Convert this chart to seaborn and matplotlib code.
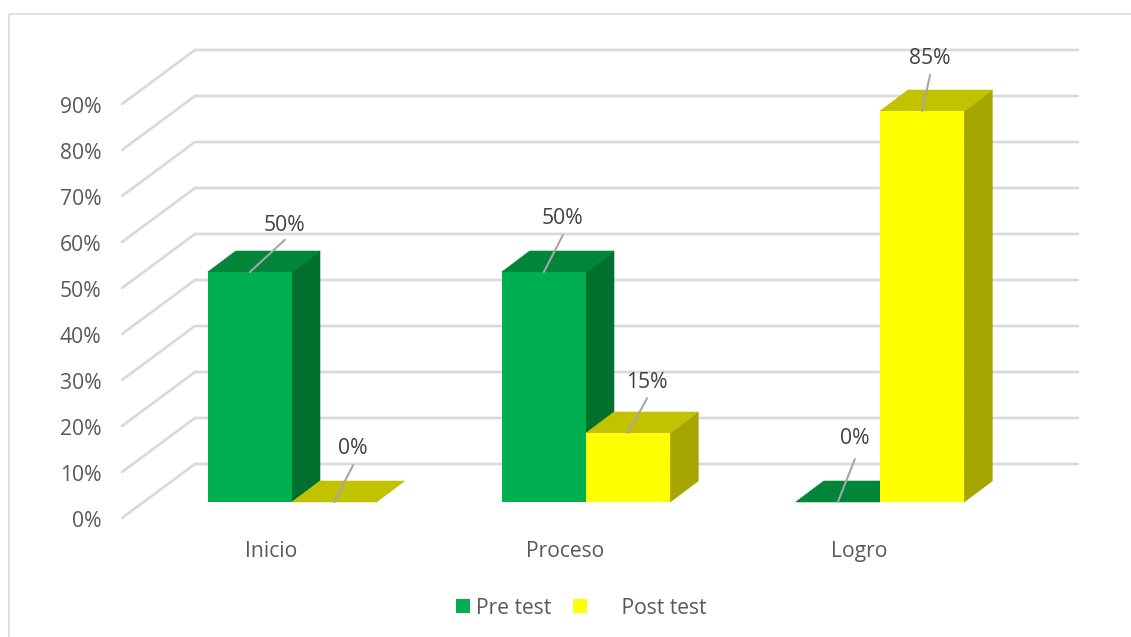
import matplotlib
matplotlib.use("Agg")
import matplotlib.pyplot as plt
from matplotlib.patches import Polygon, Rectangle
from matplotlib.transforms import Affine2D
import pandas as pd
import seaborn as sns

categories = ["Inicio", "Proceso", "Logro"]
series_names = ["Pre test", "Post test"]
pre_test = [50, 50, 0]
post_test = [0, 15, 85]
y_ticks = list(range(0, 100, 10))

front_colors = ["#00B050", "#FFFF00"]
top_colors = ["#008539", "#C2C200"]
side_colors = ["#00702F", "#A6A600"]
label_offsets = [(35, 48), (19, 55), (19, 55), (19, 52), (17, 64), (8, 54)]

W, H = 1131, 637
PX_X = 294.0
PX_Y = 4.6
FS = 15.2
plt.rcParams["font.family"] = ["Open Sans", "DejaVu Sans"]
sns.set_theme(style="white", rc={"font.family": ["Open Sans", "DejaVu Sans"]})

fig = plt.figure(figsize=(W / 100, H / 100), dpi=100)
left, right, top, bottom = 122, 1078, 49, 502
ax = fig.add_axes([left / W, 1 - bottom / H, (right - left) / W, (bottom - top) / H])

df = pd.DataFrame({
    "cat": categories * 2,
    "serie": [series_names[0]] * 3 + [series_names[1]] * 3,
    "val": pre_test + post_test,
})
sns.barplot(data=df, x="cat", y="val", hue="serie", order=categories,
            hue_order=series_names, palette=front_colors, width=168.5 / PX_X,
            gap=0, dodge=True, saturation=1, linewidth=0, legend=False, ax=ax)

ax.set_xlim((left - 292) / PX_X, (right - 292) / PX_X)
ax.set_ylim(0, (bottom - top) / PX_Y)
ax.set_xlabel("")
ax.set_ylabel("")
for s in ax.spines.values():
    s.set_visible(False)

# walls: side diagonals and back lines
wall_dx = 73 / PX_X
back_y = 38 / PX_Y
front_y = -16 / PX_Y
x_front = ax.get_xlim()[0]
x_end = ax.get_xlim()[1]
for v in y_ticks:
    ax.plot([x_front, x_front + wall_dx, x_end],
            [v + front_y, v + back_y, v + back_y],
            color="#D9D9D9", lw=1.9, clip_on=False, zorder=1,
            solid_joinstyle="miter")

# y ticks
ax.set_yticks(y_ticks)
ax.set_yticklabels([f"{v}%" for v in y_ticks])
ax.tick_params(axis="y", length=0, pad=15, labelsize=FS, labelcolor="#595959")
off_y = Affine2D().translate(0, -17)
for t in ax.get_yticklabels():
    t.set_transform(t.get_transform() + off_y)

# x ticks
ax.set_xticks(range(len(categories)))
ax.set_xticklabels(categories)
ax.tick_params(axis="x", length=0, pad=28, labelsize=FS, labelcolor="#595959")
off_x = Affine2D().translate(-21, 0)
for t in ax.get_xticklabels():
    t.set_transform(t.get_transform() + off_x)

# depth faces
ddx, ddy = 28 / PX_X, 21 / PX_Y
for si, container in enumerate(ax.containers):
    z = 3 + si
    for bar in container:
        x0, w, h = bar.get_x(), bar.get_width(), bar.get_height()
        x1 = x0 + w
        bar.set_zorder(z + 0.2)
        bar.set_clip_on(False)
        ax.add_patch(Polygon([(x1, 0), (x1 + ddx, ddy), (x1 + ddx, h + ddy), (x1, h)],
                             closed=True, fc=side_colors[si], ec=side_colors[si],
                             lw=0.4, zorder=z, clip_on=False))
        ax.add_patch(Polygon([(x0, h), (x1, h), (x1 + ddx, h + ddy), (x0 + ddx, h + ddy)],
                             closed=True, fc=top_colors[si], ec=top_colors[si],
                             lw=0.4, zorder=z + 0.1, clip_on=False))

# data labels with leader lines
bars = []
order_vals = []
for ci in range(len(categories)):
    for si, vals in enumerate([pre_test, post_test]):
        bars.append(ax.containers[si][ci])
        order_vals.append(vals[ci])
for bar, val, (lx, ly) in zip(bars, order_vals, label_offsets):
    bx = bar.get_x() + bar.get_width() / 2
    by = bar.get_height()
    ax.annotate("", xy=(bx, by), xytext=(lx, ly * 0.67), textcoords="offset pixels",
                arrowprops=dict(arrowstyle="-", color="#A6A6A6", lw=1.5,
                                shrinkA=0, shrinkB=0), zorder=8)
    ax.annotate(f"{val}%", xy=(bx, by), xytext=(lx, ly - 1), textcoords="offset pixels",
                ha="center", va="center", fontsize=FS, color="#404040", zorder=9,
                annotation_clip=False)

# legend
handles = [Rectangle((0, 0), 1, 1, fc=c, ec="none") for c in front_colors]
ax.legend(handles, [series_names[0], "     " + series_names[1]], ncols=2,
          loc="center", bbox_to_anchor=((581 - left) / (right - left), (bottom - 608) / (bottom - top)),
          frameon=False, fontsize=FS, labelcolor="#595959",
          handlelength=0.66, handleheight=0.66, handletextpad=0.3,
          columnspacing=1.05, borderpad=0, borderaxespad=0)

# outer frame
fig.add_artist(plt.Line2D([9 / W, 9 / W, 1], [0, 1 - 14 / H, 1 - 14 / H],
                          color="#D9D9D9", lw=1.2, transform=fig.transFigure))

fig.savefig("out.png", dpi=100, facecolor="white")
